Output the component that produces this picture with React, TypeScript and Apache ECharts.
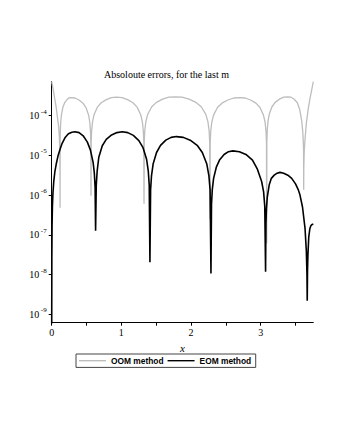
import React, { useEffect, useRef } from "react";
import * as echarts from "echarts";

// x, log10(absolute error)
const oomPoints: [number, number][] = [
  [0, -3.15], [0.024, -3.37], [0.047, -3.61], [0.065, -3.8], [0.081, -4.03], [0.1, -4.28], [0.11, -4.55], [0.116, -4.9], [0.119, -5.3], [0.12, -6.32],
  [0.1213, -4.69], [0.1239, -4.4], [0.1294, -4.17], [0.1388, -3.99], [0.1593, -3.8], [0.1828, -3.69], [0.2142, -3.61], [0.2456, -3.56], [0.277, -3.55],
  [0.334, -3.56], [0.392, -3.61], [0.449, -3.69], [0.492, -3.8], [0.5296, -3.99], [0.5468, -4.17], [0.5568, -4.4], [0.5617, -4.69], [0.564, -6.02],
  [0.5669, -4.68], [0.5732, -4.39], [0.586, -4.16], [0.6079, -3.98], [0.6555, -3.79], [0.7104, -3.68], [0.7836, -3.6], [0.8568, -3.55], [0.93, -3.54],
  [1.009, -3.55], [1.088, -3.6], [1.167, -3.68], [1.226, -3.79], [1.2776, -3.98], [1.3013, -4.16], [1.3151, -4.39], [1.3218, -4.68], [1.325, -6.22],
  [1.3286, -4.67], [1.3361, -4.38], [1.3517, -4.15], [1.3784, -3.97], [1.4363, -3.78], [1.503, -3.67], [1.592, -3.59], [1.681, -3.54], [1.77, -3.53],
  [1.87, -3.54], [1.971, -3.59], [2.071, -3.67], [2.1465, -3.78], [2.2118, -3.97], [2.2419, -4.15], [2.2595, -4.38], [2.268, -4.67], [2.272, -6.6],
  [2.2754, -4.69], [2.2827, -4.4], [2.2977, -4.17], [2.3234, -3.99], [2.379, -3.8], [2.4432, -3.69], [2.5288, -3.61], [2.6144, -3.56], [2.7, -3.55],
  [2.777, -3.56], [2.854, -3.61], [2.932, -3.69], [2.9895, -3.8], [3.0397, -3.99], [3.0628, -4.17], [3.0764, -4.4], [3.0829, -4.69], [3.086, -7.21],
  [3.0884, -4.67], [3.0936, -4.38], [3.1042, -4.15], [3.1225, -3.97], [3.162, -3.78], [3.2076, -3.67], [3.2684, -3.59], [3.3292, -3.54], [3.39, -3.53],
  [3.4354, -3.54], [3.4808, -3.59], [3.5262, -3.68], [3.5602, -3.85], [3.5898, -4.15], [3.6034, -4.4], [3.6113, -4.65], [3.6152, -4.9], [3.617, -5.87],
  [3.619, -5.3], [3.625, -4.9], [3.636, -4.6], [3.655, -4.2], [3.683, -3.82], [3.71, -3.55], [3.735, -3.33], [3.755, -3.15],
];

const eomPoints: [number, number][] = [
  [0, -9.5], [0.002, -7.6], [0.005, -6.8], [0.01, -6.3], [0.018, -5.95], [0.03, -5.65], [0.045, -5.42], [0.065, -5.22], [0.09, -5.02], [0.12, -4.85], [0.15, -4.7], [0.19, -4.56], [0.24, -4.46], [0.29, -4.42], [0.334, -4.41],
  [0.393, -4.43], [0.452, -4.51], [0.512, -4.67], [0.556, -4.87], [0.5945, -5.18], [0.612, -5.45], [0.623, -5.8], [0.63, -6.9],
  [0.6396, -5.75], [0.653, -5.39], [0.676, -5.05], [0.726, -4.76], [0.783, -4.6], [0.86, -4.49], [0.936, -4.43], [1.013, -4.41],
  [1.092, -4.43], [1.172, -4.5], [1.251, -4.63], [1.311, -4.81], [1.362, -5.1], [1.386, -5.39], [1.4, -5.75], [1.41, -7.69],
  [1.4195, -5.87], [1.4328, -5.51], [1.4556, -5.22], [1.505, -4.93], [1.562, -4.75], [1.638, -4.62], [1.714, -4.55], [1.79, -4.53],
  [1.889, -4.55], [1.988, -4.62], [2.088, -4.75], [2.162, -4.93], [2.2265, -5.22], [2.2562, -5.51], [2.2736, -5.87], [2.286, -7.97],
  [2.2939, -6.23], [2.3048, -5.87], [2.3237, -5.58], [2.3645, -5.29], [2.4116, -5.11], [2.4744, -4.98], [2.5372, -4.91], [2.6, -4.89],
  [2.694, -4.91], [2.788, -4.98], [2.882, -5.12], [2.9525, -5.35], [3.0136, -5.66], [3.0418, -5.92], [3.0583, -6.28], [3.07, -7.93],
  [3.0752, -6.7], [3.0824, -6.35], [3.0948, -6.05], [3.1218, -5.75], [3.1528, -5.58], [3.1942, -5.5], [3.2356, -5.45], [3.277, -5.43],
  [3.33, -5.45], [3.39, -5.5], [3.445, -5.58], [3.5, -5.72], [3.54, -5.87], [3.564, -6.0], [3.6, -6.3], [3.636, -6.83], [3.655, -7.4], [3.664, -8.0], [3.668, -8.66],
  [3.672, -7.9], [3.678, -7.5], [3.69, -7.05], [3.705, -6.85], [3.72, -6.77], [3.74, -6.74], [3.755, -6.73],
];

const yDecades = [-9, -8, -7, -6, -5, -4];
const xLabels = [0, 1, 2, 3];
const xTicks = [0, 0.5, 1, 1.5, 2, 2.5, 3, 3.5];
const seriesNames = ["OOM method", "EOM method"];
const titleText = "Absoloute errors, for the last m";

const SERIF = "'Liberation Serif', 'Times New Roman', serif";
const SANS = "'Liberation Sans', Arial, sans-serif";

export default function App() {
  const ref = useRef<HTMLDivElement>(null);
  useEffect(() => {
    if (!ref.current) return;
    const chart = echarts.init(ref.current, null, { renderer: "svg" });
    chart.setOption({
      animation: false,
      backgroundColor: "#ffffff",
      title: {
        text: titleText,
        left: 104,
        top: 69,
        padding: 0,
        textStyle: { fontFamily: SERIF, fontSize: 10, fontWeight: "normal", color: "#000" },
      },
      grid: { left: 51.7, right: 26.7, top: 81.7, bottom: 117.3 },
      legend: {
        data: seriesNames,
        left: 76,
        top: 354,
        orient: "horizontal",
        icon: "rect",
        itemWidth: 27,
        itemHeight: 1.4,
        itemGap: 4,
        padding: [1.7, 4.5, 1.7, 3],
        borderColor: "#444",
        borderWidth: 1,
        textStyle: { fontFamily: SANS, fontSize: 8.4, fontWeight: "bold", color: "#000", lineHeight: 10 },
      },
      xAxis: {
        type: "value",
        min: 0,
        max: 3.755,
        name: "x",
        nameLocation: "middle",
        nameGap: 15,
        nameTextStyle: { fontFamily: SERIF, fontStyle: "italic", fontSize: 11, color: "#000" },
        axisLine: { show: true, onZero: false, lineStyle: { color: "#000", width: 1 } },
        axisTick: { show: true, length: 3, customValues: xTicks, lineStyle: { color: "#000", width: 1 } },
        axisLabel: {
          customValues: xLabels,
          margin: 5,
          fontFamily: SERIF,
          fontSize: 10,
          color: "#000",
          formatter: (v: number) => String(v),
        },
        splitLine: { show: false },
      },
      yAxis: {
        type: "value",
        min: -9.21,
        max: -3.15,
        axisLine: { show: true, onZero: false, lineStyle: { color: "#000", width: 1 } },
        axisTick: { show: true, length: 3, customValues: yDecades, lineStyle: { color: "#000", width: 1 } },
        axisLabel: {
          customValues: yDecades,
          margin: 5,
          formatter: (v: number) => `{b|10}{s|-${Math.round(-v)}}`,
          rich: {
            b: { fontFamily: SERIF, fontSize: 10, color: "#000", lineHeight: 15 },
            s: { fontFamily: SERIF, fontSize: 7, color: "#000", lineHeight: 9, verticalAlign: "top", padding: [0, 0, 0, 1.5] },
          },
        },
        splitLine: { show: false },
      },
      series: [
        {
          name: seriesNames[0],
          type: "line",
          data: oomPoints,
          symbol: "none",
          showSymbol: false,
          clip: true,
          lineStyle: { color: "#bdbdbd", width: 1.3 },
          itemStyle: { color: "#bdbdbd" },
          z: 2,
        },
        {
          name: seriesNames[1],
          type: "line",
          data: eomPoints,
          symbol: "none",
          showSymbol: false,
          clip: true,
          lineStyle: { color: "#000000", width: 1.6 },
          itemStyle: { color: "#000000" },
          z: 3,
        },
      ],
    });
    return () => chart.dispose();
  }, []);
  return (
    <div
      ref={ref}
      style={{ position: "fixed", left: 0, top: 0, width: 340, height: 440, background: "#fff" }}
    />
  );
}
